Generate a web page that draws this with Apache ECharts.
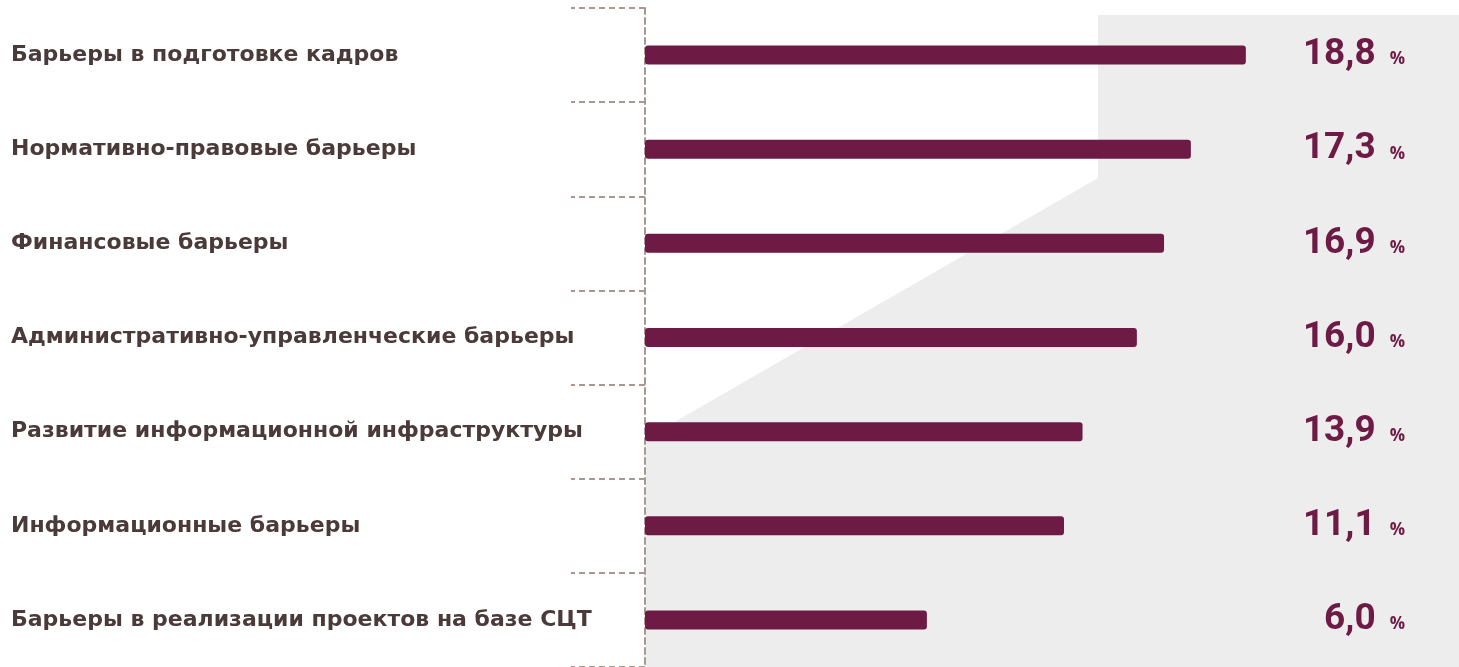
<!DOCTYPE html>
<html>
<head>
<meta charset="utf-8">
<script src="https://cdn.jsdelivr.net/npm/echarts@6/dist/echarts.min.js"></script>
<style>
  html, body { margin: 0; padding: 0; background: #fff; }
  #chart { width: 1459px; height: 667px; }
</style>
</head>
<body>
<div id="chart"></div>
<script>
// категории барьеров (сверху вниз)
const categories = [
  'Барьеры в подготовке кадров',
  'Нормативно-правовые барьеры',
  'Финансовые барьеры',
  'Административно-управленческие барьеры',
  'Развитие информационной инфраструктуры',
  'Информационные барьеры',
  'Барьеры в реализации проектов на базе СЦТ'
]
// подписи долей, %
const shares = [18.8, 17.3, 16.9, 16.0, 13.9, 11.1, 6.0]
// длины полос, как они нарисованы на исходнике (в тех же единицах шкалы)
const barValues = [18.8, 17.08, 16.24, 15.39, 13.69, 13.11, 8.82]

const chart = echarts.init(document.getElementById('chart'))

const labelColor = '#4a3a3a'
const accent = '#6d1a45'
const dashColor = '#a89890'

const option = {
  backgroundColor: '#fff',
  animation: false,
  // серая подложка справа
  graphic: [{
    type: 'polygon',
    z: -10,
    shape: {
      points: [[1098, 15], [1459, 15], [1459, 667], [645, 667], [645, 439], [1098, 178]]
    },
    style: { fill: '#ededed' }
  }],
  grid: { left: 645, right: 15, top: 8, bottom: 0, containLabel: false },
  xAxis: {
    type: 'value',
    min: 0,
    max: 25,
    show: false
  },
  yAxis: [{
    type: 'category',
    inverse: true,
    data: categories,
    axisLine: { show: true, lineStyle: { color: dashColor, width: 2, type: [6, 4] } },
    axisTick: { show: true, length: 74, lineStyle: { color: dashColor, width: 2, type: [6, 4] } },
    axisLabel: {
      margin: 634,
      align: 'left',
      color: labelColor,
      fontFamily: 'DejaVu Sans',
      fontWeight: 'bold',
      fontSize: 22
    }
  }, {
    type: 'category',
    inverse: true,
    position: 'right',
    data: shares.map(v => v.toFixed(1).replace('.', ',')),
    axisLine: { show: false },
    axisTick: { show: false },
    axisLabel: {
      inside: true,
      margin: 39,
      align: 'right',
      formatter: v => '{v|' + v + '}{p|%}',
      rich: {
        v: { color: accent, fontFamily: 'Roboto', fontWeight: 'bold', fontSize: 37 },
        p: { color: accent, fontFamily: 'Open Sans', fontWeight: 'bold', fontSize: 17, padding: [9, 0, 0, 14] }
      }
    }
  }],
  series: [{
    type: 'bar',
    data: barValues,
    barWidth: 19,
    itemStyle: {
      color: accent,
      borderRadius: 3
    }
  }]
}

chart.setOption(option)
</script>
</body>
</html>
